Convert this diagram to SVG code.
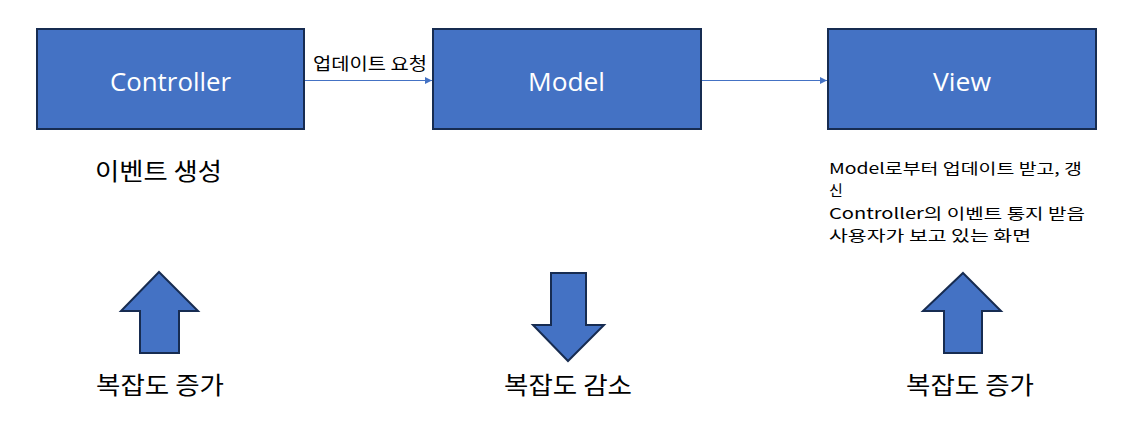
<svg xmlns="http://www.w3.org/2000/svg" width="1138" height="431" viewBox="0 0 1138 431">
<style>
.box{fill:#4472C4;stroke:#172C51;stroke-width:2}
.title{font-family:"Open Sans","Noto Sans CJK KR",sans-serif;font-size:26px;fill:#fff}
.lbl{font-family:"Noto Sans CJK KR",sans-serif;font-size:24px;fill:#000}
.small{font-family:"Noto Sans CJK KR",sans-serif;font-size:17px;fill:#000}
.desc{font-family:"Noto Sans CJK KR",sans-serif;font-size:15px;fill:#000}
.conn{stroke:#4472C4;stroke-width:1.2;fill:none;marker-end:url(#ah)}
.bigarrow{fill:#4472C4;stroke:#172C51;stroke-width:2}
</style>
<defs>
<marker id="ah" viewBox="0 0 10 10" refX="10" refY="5" markerWidth="7" markerHeight="7" markerUnits="userSpaceOnUse" orient="auto">
<path d="M0,0 L10,5 L0,10 z" fill="#4472C4"/>
</marker>
</defs>
<rect width="1138" height="431" fill="#fff"/>
<g id="connectors">
<line class="conn" x1="305" y1="80.5" x2="432" y2="80.5"/>
<text class="small" x="313" y="70" textLength="114" lengthAdjust="spacingAndGlyphs">업데이트 요청</text>
<line class="conn" x1="702" y1="80.5" x2="827" y2="80.5"/>
</g>
<g id="controller">
<rect class="box" x="37" y="29" width="267" height="100"/>
<text class="title" x="110" y="91" textLength="121" lengthAdjust="spacingAndGlyphs">Controller</text>
</g>
<g id="model">
<rect class="box" x="433" y="29" width="268" height="100"/>
<text class="title" x="528" y="91" textLength="77" lengthAdjust="spacingAndGlyphs">Model</text>
</g>
<g id="view">
<rect class="box" x="828" y="29" width="268" height="100"/>
<text class="title" x="933" y="91" textLength="58" lengthAdjust="spacingAndGlyphs">View</text>
</g>
<g id="controller-desc">
<text class="lbl" x="95" y="180" textLength="127" lengthAdjust="spacingAndGlyphs">이벤트 생성</text>
</g>
<g id="view-desc">
<text class="desc" x="829" y="174" textLength="253" lengthAdjust="spacingAndGlyphs">Model로부터 업데이트 받고, 갱</text>
<text class="desc" x="829" y="196">신</text>
<text class="desc" x="829" y="219" textLength="256" lengthAdjust="spacingAndGlyphs">Controller의 이벤트 통지 받음</text>
<text class="desc" x="829" y="241" textLength="202" lengthAdjust="spacingAndGlyphs">사용자가 보고 있는 화면</text>
</g>
<g id="arrow-left">
<polygon class="bigarrow" points="159,272 198,311 179,311 179,353 140,353 140,311 121,311"/>
<text class="lbl" x="96" y="394" textLength="128" lengthAdjust="spacingAndGlyphs">복잡도 증가</text>
</g>
<g id="arrow-middle">
<polygon class="bigarrow" points="551,273 586,273 586,325 604,325 568,361 533,325 551,325"/>
<text class="lbl" x="504" y="394" textLength="128" lengthAdjust="spacingAndGlyphs">복잡도 감소</text>
</g>
<g id="arrow-right">
<polygon class="bigarrow" points="963,273 1001,311 982,311 982,353 944,353 944,311 923,311"/>
<text class="lbl" x="906" y="394" textLength="128" lengthAdjust="spacingAndGlyphs">복잡도 증가</text>
</g>
</svg>
